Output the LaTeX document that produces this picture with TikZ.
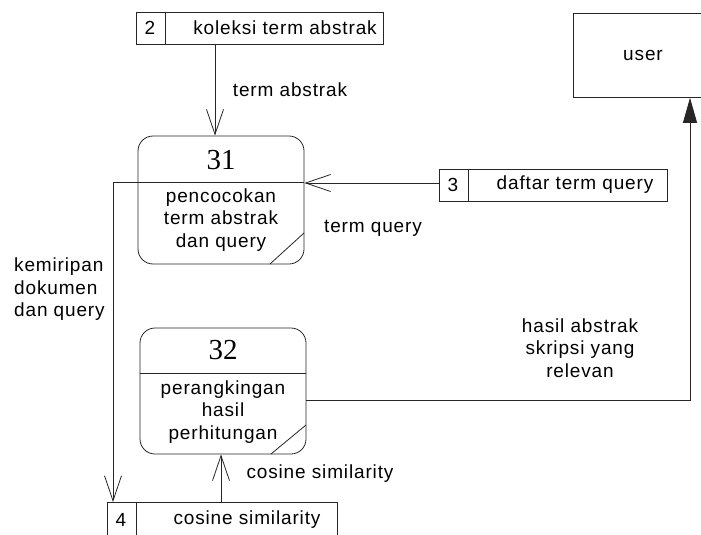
\documentclass[tikz,border=0pt]{standalone}
\usepackage{fontspec}
\setmainfont{Liberation Sans}[LetterSpace=4.5]
\newfontfamily\numfont{Liberation Serif}
\usetikzlibrary{arrows.meta,calc}

\tikzset{
  line/.style={draw=black!85, line width=0.8pt},
  flow/.style={line, -{Straight Barb[length=25pt,width=17pt,line width=0.8pt]}},
  outflow/.style={line, -{Triangle[length=25pt,width=14pt]}},
  storebox/.style={line, rectangle, inner sep=0pt},
  procbox/.style={line, rectangle, rounded corners=15pt, inner sep=0pt},
  txt/.style={font=\fontsize{19}{22.5}\selectfont, inner sep=0pt, text=black},
  numtxt/.style={font=\numfont\fontsize{29}{30}\selectfont, inner sep=0pt},
}

\begin{document}
\begin{tikzpicture}[x=1pt,y=-1pt]
\useasboundingbox (0,0) rectangle (701,535);
\clip (0,0) rectangle (701,535);

% data store 2
\node[storebox, minimum width=247pt, minimum height=32pt] (s2) at (259.5,28) {};
\draw[line] (165,0 |- s2.north) -- (165,0 |- s2.south);
\node[txt] (s2n) at (150,28) {2};
\node[txt] (s2t) at (285,28) {koleksi term abstrak};

% data store 3
\node[storebox, minimum width=228pt, minimum height=32pt] (s3) at (553,185) {};
\draw[line] (468,0 |- s3.north) -- (468,0 |- s3.south);
\node[txt] (s3n) at (453,185) {3};
\node[txt] (s3t) at (575,185) {daftar term query};

% data store 4 (runs past the lower edge)
\node[storebox, minimum width=230pt, minimum height=50pt, anchor=north] (s4) at (222,502) {};
\draw[line] (136,0 |- s4.north) -- (136,0 |- s4.south);
\node[txt] (s4n) at (121,520) {4};
\node[txt] (s4t) at (247,520) {cosine similarity};

% external entity
\node[line, rectangle, minimum width=135pt, minimum height=84pt, anchor=north west] (user) at (573,13) {};
\node[txt] (usert) at (643,55) {user};

% process 31
\node[procbox, minimum width=166pt, minimum height=128pt] (p31) at (221,200) {};
\coordinate (d31) at (221,182);
\draw[line] (p31.west |- d31) -- (p31.east |- d31);
\draw[line] (304,233) -- (270,264);
\node[numtxt] (p31n) at (221,160) {31};
\node[txt, align=center] (p31t) at (221,220) {pencocokan\\term abstrak\\dan query};

% process 32
\node[procbox, minimum width=166pt, minimum height=126pt] (p32) at (223,391) {};
\coordinate (d32) at (223,373);
\draw[line] (p32.west |- d32) -- (p32.east |- d32);
\draw[line] (306,425) -- (271,454);
\node[numtxt] (p32n) at (223,350) {32};
\node[txt, align=center] (p32t) at (223,412) {perangkingan\\hasil\\perhitungan};

% flows
\draw[flow] (215,0 |- s2.south) -- (215,0 |- p31.north);
\node[txt] (l1) at (290,90) {term abstrak};

\draw[flow] (s3.west |- 0,183) -- (p31.east |- 0,183);
\node[txt] (l2) at (373,228) {term query};

\draw[flow] (p31.west |- d31) -- (113,0 |- d31) -- (113,0 |- s4.north);
\node[txt, align=left, anchor=north west] (l3) at (14,258) {kemiripan\\dokumen\\dan query};

\draw[flow] (221,0 |- s4.north) -- (221,0 |- p32.south);
\node[txt] (l4) at (320,474) {cosine similarity};

\coordinate (bend) at (690,400);
\draw[outflow] (p32.east |- bend) -- (bend) -- (bend |- user.south);
\node[txt, align=center] (l5) at (580,348) {hasil abstrak\\skripsi yang\\relevan};
\end{tikzpicture}
\end{document}
